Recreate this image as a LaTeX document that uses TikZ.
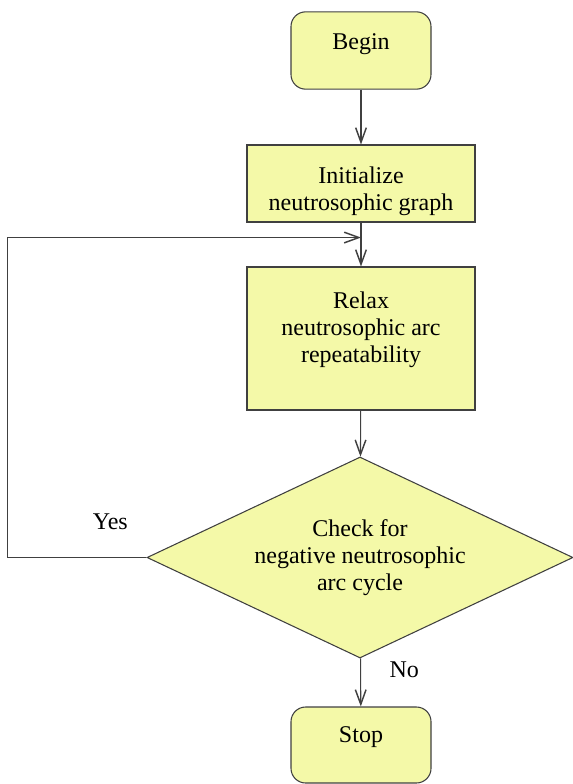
\documentclass[tikz,border=0pt]{standalone}
\usepackage{fontspec}
\setmainfont{Liberation Serif}
\usetikzlibrary{shapes.geometric,arrows.meta,scopes}

\definecolor{boxfill}{RGB}{244,249,168}
\definecolor{boxline}{RGB}{64,64,64}

\begin{document}
\begin{tikzpicture}[
    x=0.75pt,y=-0.75pt,
    every node/.style={font=\rmfamily\fontsize{18}{20.3}\selectfont},
    term/.style={rectangle,rounded corners=11pt,draw=boxline,fill=boxfill,line width=0.8pt,minimum width=105pt,minimum height=58pt},
    proc/.style={rectangle,draw=boxline,fill=boxfill,line width=0.8pt,minimum width=171pt,align=center},
    test/.style={diamond,draw=boxline,fill=boxfill,line width=0.8pt,aspect=2.12,minimum width=319.5pt,minimum height=150.75pt,inner sep=0pt,align=center},
    flow/.style={draw=boxline,line width=0.8pt,-{Straight Barb[length=11pt,width=8pt,line width=1.1pt]}},
]
    \useasboundingbox (0,0) rectangle (573,784);

    %%%
    % Steps of the loop
    \node[term,text depth=13pt] (begin) at (361,50.5) {Begin};
    \node[proc,minimum height=57.75pt,text height=44pt] (init) at (361,183.5) {Initialize\\neutrosophic graph};
    \node[proc,minimum height=107.25pt,text depth=17.5pt] (relax) at (361,338.5) {Relax\\neutrosophic arc\\repeatability};
    \node[test] (check) at (360,557.5) {Check for\\negative neutrosophic\\arc cycle};
    \node[term,minimum height=57pt,text depth=16pt] (stop) at (361,745) {Stop};
    \coordinate (join) at ([yshift=-11.25pt]init.south);

    %%%
    % Arrows
    {[flow]
        \draw (begin) -- (init);
        \draw (init) -- (relax);
        \draw (relax) -- (check);
        \draw (check) -- node[pos=0.23,right=18pt]{No} (stop);
        \draw (check.west) -- node[pos=0.26,yshift=27pt]{Yes} ++(-139,0) |- (join);
    }

\end{tikzpicture}
\end{document}
